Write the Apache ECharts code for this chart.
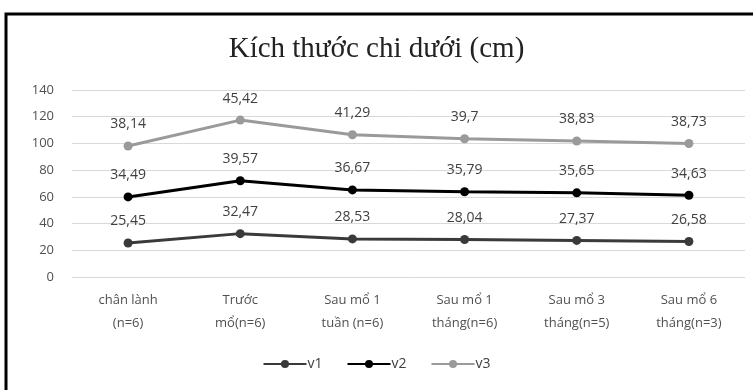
<!DOCTYPE html>
<html>
<head>
<meta charset="utf-8">
<style>
  html, body { margin: 0; padding: 0; background: #fff; }
  #ch1 { width: 753px; height: 390px; }
</style>
<script src="https://cdn.jsdelivr.net/npm/echarts@6/dist/echarts.min.js"></script>
</head>
<body>
<div id="ch1"></div>
<script>
const categories = [
  'chân lành\n(n=6)',
  'Trước\nmổ(n=6)',
  'Sau mổ 1\ntuần (n=6)',
  'Sau mổ 1\ntháng(n=6)',
  'Sau mổ 3\ntháng(n=5)',
  'Sau mổ 6\ntháng(n=3)'
]
const v1 = [25.45, 32.47, 28.53, 28.04, 27.37, 26.58]
const v2 = [34.49, 39.57, 36.67, 35.79, 35.65, 34.63]
const v3 = [38.14, 45.42, 41.29, 39.7, 38.83, 38.73]

const cht1 = echarts.init(document.getElementById('ch1'))

function mkSeries (name, data, color) {
  return {
    name: name,
    type: 'line',
    stack: 'total',
    data: data,
    symbol: 'circle',
    symbolSize: 9,
    lineStyle: { color: color, width: 3 },
    itemStyle: { color: color },
    label: {
      show: true,
      position: 'top',
      distance: 10,
      color: '#404040',
      fontFamily: 'Open Sans',
      fontSize: 14,
      formatter: function (p) { return String(p.value).replace('.', ',') }
    }
  }
}

const options1 = {
  animation: false,
  title: {
    text: 'Kích thước chi dưới (cm)',
    left: 'center',
    top: 30,
    textStyle: {
      fontFamily: 'Liberation Serif',
      fontWeight: 'normal',
      fontSize: 29,
      color: '#222'
    }
  },
  graphic: [{
    type: 'rect',
    shape: { x: 6, y: 14, width: 820, height: 420 },
    style: { fill: 'none', stroke: '#000', lineWidth: 3 }
  }],
  legend: {
    bottom: 14,
    left: 'center',
    itemWidth: 43,
    itemHeight: 10,
    itemGap: 24,
    textStyle: { color: '#404040', fontFamily: 'Open Sans', fontSize: 14, padding: [0, 0, 0, -4] },
    data: ['v1', 'v2', 'v3']
  },
  grid: { left: 72, right: 8, top: 90, bottom: 113, containLabel: false },
  xAxis: {
    type: 'category',
    data: categories,
    axisLine: { show: false },
    axisTick: { show: false },
    axisLabel: {
      interval: 0,
      color: '#505050',
      fontFamily: 'Open Sans',
      fontSize: 13,
      lineHeight: 23,
      margin: 12
    }
  },
  yAxis: {
    type: 'value',
    min: 0,
    max: 140,
    interval: 20,
    axisLine: { show: false },
    axisTick: { show: false },
    axisLabel: {
      color: '#505050',
      fontFamily: 'Open Sans',
      fontSize: 13,
      margin: 18
    },
    splitLine: { lineStyle: { color: '#d9d9d9', width: 1 } }
  },
  series: [
    mkSeries('v1', v1, '#3a3a3a'),
    mkSeries('v2', v2, '#000000'),
    mkSeries('v3', v3, '#9a9a9a')
  ]
}
cht1.setOption(options1)
</script>
</body>
</html>
